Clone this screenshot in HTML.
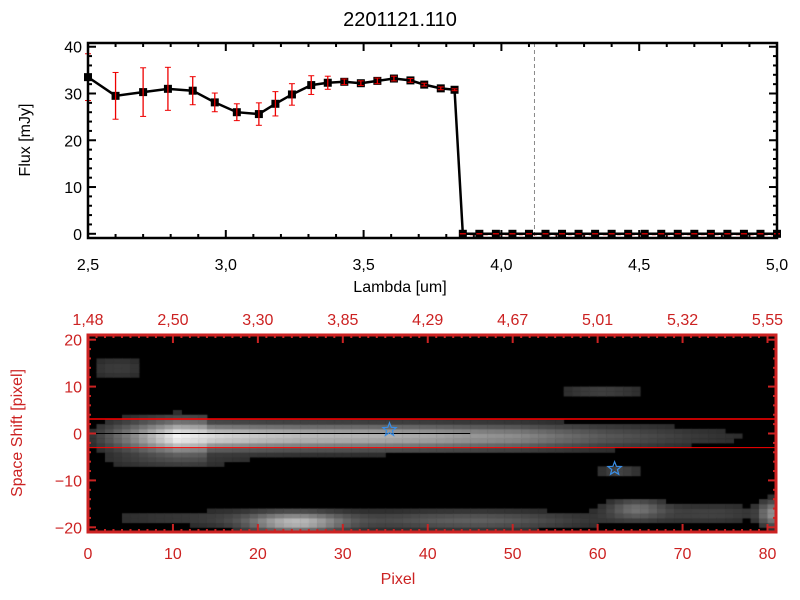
<!DOCTYPE html>
<html><head><meta charset="utf-8"><style>
html,body{margin:0;padding:0;background:#fff;width:800px;height:600px;overflow:hidden}
svg{position:absolute;left:0;top:0}
canvas{position:absolute}
text{font-family:"Liberation Sans",sans-serif}
</style></head><body>
<canvas id="hm" width="688" height="197" style="left:88px;top:335px"></canvas>
<svg id="s" width="800" height="600"></svg>
<script>
const lambdas=[2.5,2.6,2.7,2.79,2.88,2.96,3.04,3.12,3.18,3.24,3.31,3.37,3.43,3.49,3.55,3.61,3.67,3.72,3.78,3.83,3.86,3.92,3.98,4.04,4.1,4.16,4.22,4.28,4.34,4.4,4.46,4.52,4.58,4.64,4.7,4.76,4.82,4.88,4.94,5.0];
const flux=[33.5,29.5,30.3,31,30.6,28.1,26,25.6,27.8,29.8,31.8,32.3,32.5,32.2,32.7,33.2,32.8,31.9,31.1,30.8,0,0,0,0,0,0,0,0,0,0,0,0,0,0,0,0,0,0,0,0];
const errs=[5,5,5.2,4.6,3,2,1.8,2.4,2.6,2.3,2,1.4,0.6,0.5,0.6,0.5,0.4,0.3,0.3,0.2,0,0,0,0,0,0,0,0,0,0,0,0,0,0,0,0,0,0,0,0];
const xTicks=["2.5","3.0","3.5","4.0","4.5","5.0"];
const yTicks=[0,10,20,30,40];
const pixTicks=[0,10,20,30,40,50,60,70,80];
const waveTicks=["1.48","2.50","3.30","3.85","4.29","4.67","5.01","5.32","5.55"];
const shiftTicks=[-20,-10,0,10,20];
// trail brightness per 5-pixel bin (pixel 0..80)
const trailAmp=[0.12,0.5,0.95,0.82,0.75,0.7,0.68,0.66,0.62,0.55,0.5,0.38,0.28,0.22,0.15,0.1,0.06];
// blobs: [px, shift, sx, sy, amplitude]
const blobs=[[24,-19,4,1.5,0.6],[14,-18,12,1.5,0.14],[45,-18.5,10,1.5,0.3],[64,-16,2.5,1.5,0.35],[80,-17,1,2,0.45],[60,9,4,1,0.18],[3,14,3,2,0.15],[73,-17,5,1.5,0.18],[62,-8,2,1,0.2],[10,-6,8,1,0.12]];
const stars=[[35.5,0.8],[62,-7.5]];
const C="#cc2222";
const s=document.getElementById('s');
const NS="http://www.w3.org/2000/svg";
function el(t,a,txt){const e=document.createElementNS(NS,t);for(const k in a)e.setAttribute(k,a[k]);if(txt!==undefined)e.textContent=txt;s.appendChild(e);return e;}
const L=88,R=777,T=43,B=238,x0=2.5,x1=5.0,y0=-0.9,y1=40.8;
const X=v=>L+(v-x0)/(x1-x0)*(R-L), Y=v=>B-(v-y0)/(y1-y0)*(B-T);
let t=el('text',{x:400,y:26,'font-size':20,'text-anchor':'middle'},'2201121.110');

for(let v=2.5;v<=5.001;v+=0.1){const maj=Math.abs(v*2-Math.round(v*2))<1e-6;const l=maj?8:4;
 el('line',{x1:X(v),x2:X(v),y1:B,y2:B-l,stroke:'#000','stroke-width':2});el('line',{x1:X(v),x2:X(v),y1:T,y2:T+l,stroke:'#000','stroke-width':2});}
xTicks.forEach(v=>{const e=el('text',{x:X(+v),y:270,'font-size':16,'text-anchor':'middle'},v.replace('.',','));});
for(let v=0;v<=40;v+=2){const l=v%10==0?8:4;el('line',{x1:L,x2:L+l,y1:Y(v),y2:Y(v),stroke:'#000','stroke-width':2});el('line',{x1:R,x2:R-l,y1:Y(v),y2:Y(v),stroke:'#000','stroke-width':2});}
yTicks.forEach(v=>{const e=el('text',{x:82,y:Y(v)+6,'font-size':16,'text-anchor':'end'},v);});
t=el('text',{x:400,y:292,'font-size':16,'text-anchor':'middle'},'Lambda [um]');
t=el('text',{x:0,y:0,'font-size':16,'text-anchor':'middle',transform:'translate(30,140) rotate(-90)'},'Flux [mJy]');
el('line',{x1:X(4.12),x2:X(4.12),y1:T,y2:B,stroke:'#888','stroke-dasharray':'4,3'});
el('line',{x1:X(3.86),x2:R,y1:Y(0)+1,y2:Y(0)+1,stroke:'#e00','stroke-dasharray':'4,3'});
const ln=el('polyline',{points:lambdas.map((v,i)=>X(v)+','+Y(flux[i])).join(' '),fill:'none',stroke:'#000','stroke-width':2.5});

lambdas.forEach((v,i)=>{const r=el('rect',{x:X(v)-4,y:Y(flux[i])-4,width:8,height:8,fill:'#000'});
 if(errs[i]>0||flux[i]==0){const a=Y(flux[i]+errs[i]),b=Y(flux[i]-errs[i]);el('line',{x1:X(v),x2:X(v),y1:a,y2:b,stroke:'#e00','stroke-width':1.3});el('line',{x1:X(v)-3,x2:X(v)+3,y1:a,y2:a,stroke:'#e00'});el('line',{x1:X(v)-3,x2:X(v)+3,y1:b,y2:b,stroke:'#e00'});}});
el('rect',{x:L,y:T,width:R-L,height:B-T,fill:'none',stroke:'#000','stroke-width':2.5});
const HL=88,HR=776,HT=335,HB=532,p0=0,p1=81,q0=-21,q1=21;
const PX=v=>HL+(v-p0)/(p1-p0)*(HR-HL), QY=v=>HB-(v-q0)/(q1-q0)*(HB-HT);
const cx=document.getElementById('hm').getContext('2d');
cx.fillStyle='#000';cx.fillRect(0,0,688,197);
for(let p=0;p<81;p++){for(let q=-21;q<21;q++){
 const bi=Math.min(trailAmp.length-1,p/5);const i0=Math.floor(bi),f=bi-i0;const amp=trailAmp[i0]*(1-f)+(trailAmp[Math.min(i0+1,trailAmp.length-1)])*f;
 const yc=q+0.5+0.7;let v=amp*Math.exp(-yc*yc/(2*(p<14?2.4:1.9)**2));
 blobs.forEach(b=>{v+=b[4]*Math.exp(-((p-b[0])**2)/(2*b[2]*b[2])-((q+0.5-b[1])**2)/(2*b[3]*b[3]));});
 if(v<0.09)continue;v=Math.min(1,v);const g=Math.round(25+v*230);
 cx.fillStyle=`rgb(${g},${g},${g})`;cx.fillRect(PX(p)-HL,QY(q+1)-HT,PX(p+1)-PX(p)+0.5,QY(q)-QY(q+1)+0.5);}}
el('line',{x1:HL,x2:HR,y1:QY(3.1),y2:QY(3.1),stroke:'#f00','stroke-width':1.5});
el('line',{x1:HL,x2:HR,y1:QY(-3.0),y2:QY(-3.0),stroke:'#f00','stroke-width':1});
el('line',{x1:HL,x2:PX(45),y1:QY(0),y2:QY(0),stroke:'#000','stroke-width':1});
stars.forEach(st=>{const cxp=PX(st[0]),cyp=QY(st[1]);let pts=[];for(let k=0;k<10;k++){const r=k%2?3:7,a=-Math.PI/2+k*Math.PI/5;pts.push((cxp+r*Math.cos(a)).toFixed(1)+','+(cyp+r*Math.sin(a)).toFixed(1));}
 const e=el('polygon',{points:pts.join(' '),fill:'none',stroke:'#3a8ee6','stroke-width':1.2});});
for(let p=0;p<=81;p++){const l=p%10==0?8:3;el('line',{x1:PX(p),x2:PX(p),y1:HB,y2:HB-l,stroke:C,'stroke-width':2});el('line',{x1:PX(p),x2:PX(p),y1:HT,y2:HT+l,stroke:C,'stroke-width':2});}
for(let q=-20;q<=20;q+=2){const l=q%10==0?8:3;el('line',{x1:HL,x2:HL+l,y1:QY(q),y2:QY(q),stroke:C,'stroke-width':2});el('line',{x1:HR,x2:HR-l,y1:QY(q),y2:QY(q),stroke:C,'stroke-width':2});}
el('rect',{x:HL,y:HT,width:HR-HL,height:HB-HT,fill:'none',stroke:C,'stroke-width':3});
pixTicks.forEach(v=>{const e=el('text',{x:PX(v),y:559,'font-size':16,'text-anchor':'middle',fill:C},v);});
waveTicks.forEach((v,i)=>{const e=el('text',{x:PX(pixTicks[i]),y:325,'font-size':16,'text-anchor':'middle',fill:C},v.replace('.',','));});
shiftTicks.forEach(v=>{const e=el('text',{x:82,y:QY(v)+6,'font-size':16,'text-anchor':'end',fill:C},v==0?'0':(v<0?'−'+(-v):v));});
t=el('text',{x:HL+(HR-HL)/2-34,y:584,'font-size':16,'text-anchor':'middle',fill:C},'Pixel');
t=el('text',{x:0,y:0,'font-size':16,'text-anchor':'middle',fill:C,transform:'translate(22,433) rotate(-90)'},'Space Shift [pixel]');
</script>
</body></html>
